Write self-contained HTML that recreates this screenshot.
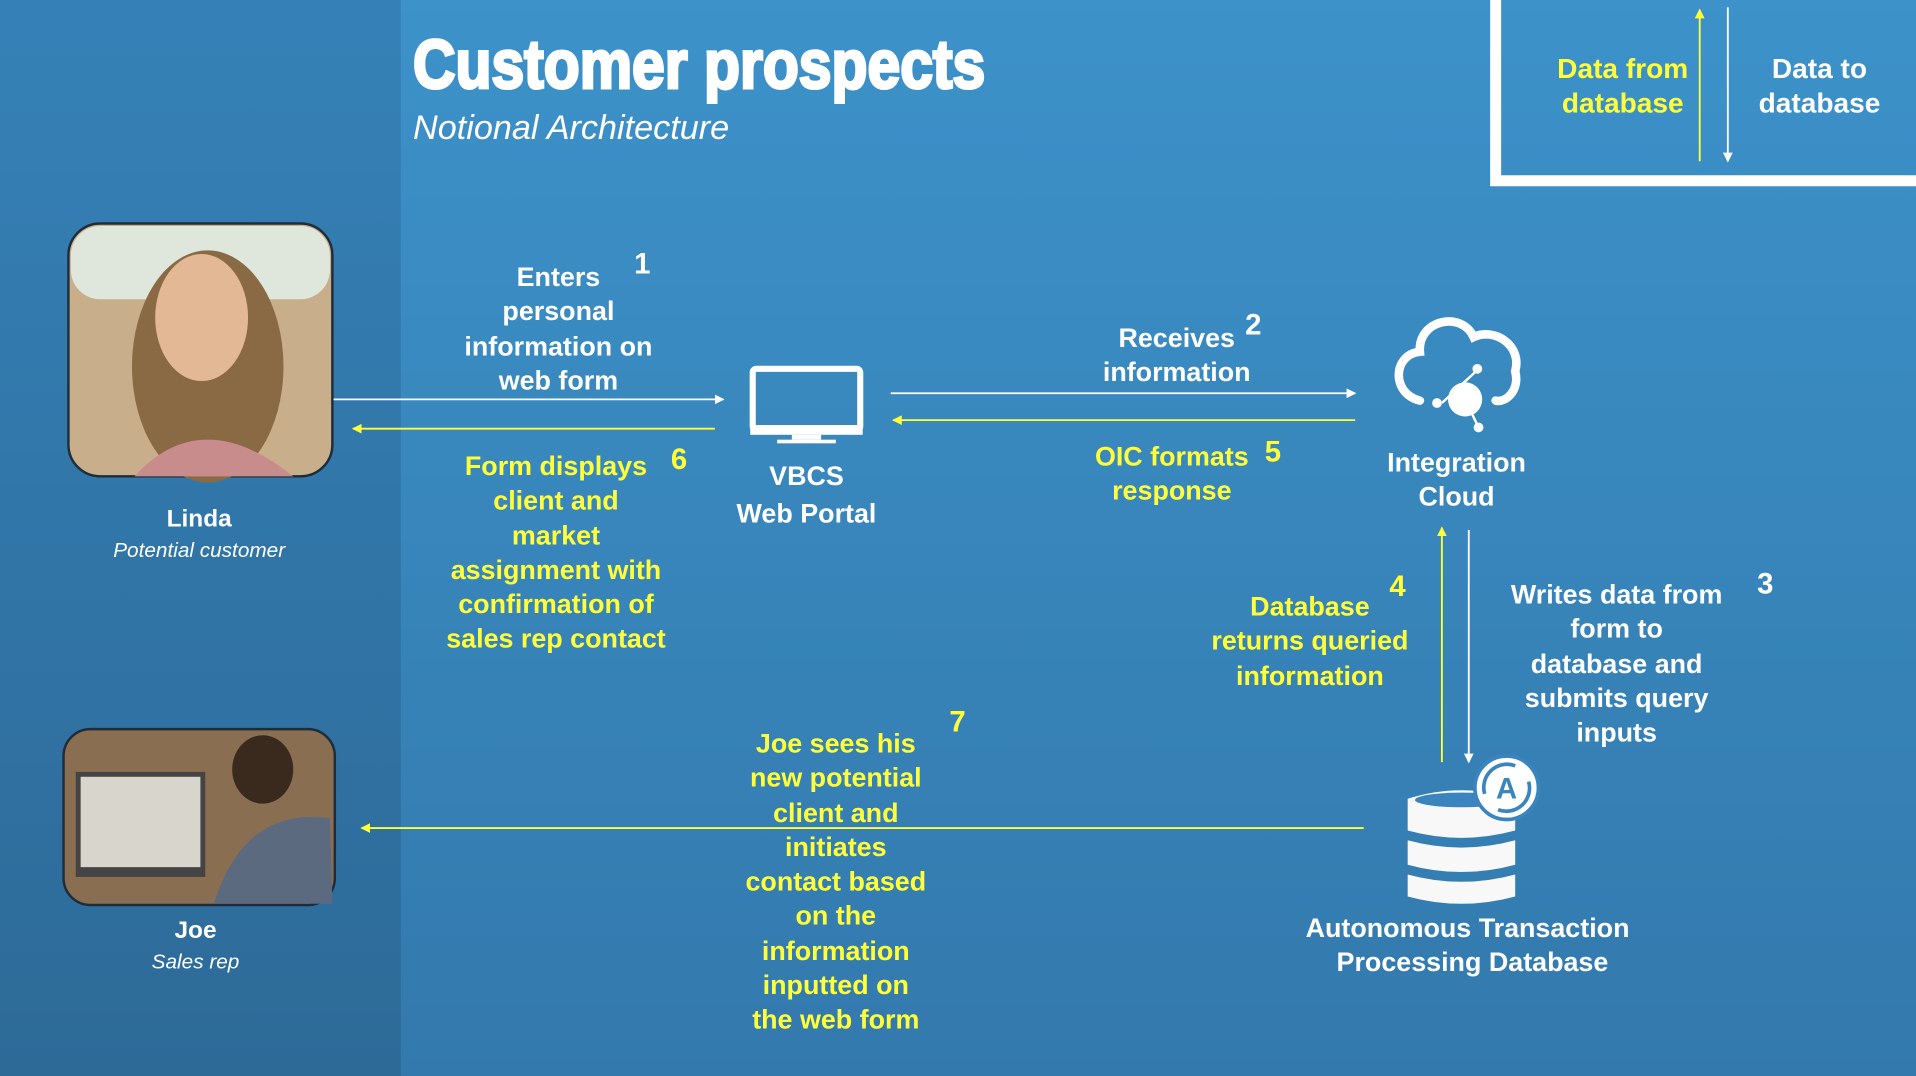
<!DOCTYPE html>
<html><head><meta charset="utf-8"><style>
html,body{margin:0;padding:0;width:1916px;height:1076px;overflow:hidden;background:#3a8cc4}
svg{display:block}
text{font-family:"Liberation Sans",sans-serif;font-weight:bold}
</style></head><body>
<svg width="1916" height="1076" viewBox="0 0 1568 881" preserveAspectRatio="none" xmlns="http://www.w3.org/2000/svg">
<defs>
<linearGradient id="bg" x1="0" y1="0" x2="0" y2="1"><stop offset="0" stop-color="#3c92c9"/><stop offset="1" stop-color="#3379ad"/></linearGradient>
<linearGradient id="lp" x1="0" y1="0" x2="0" y2="1"><stop offset="0" stop-color="#3581b7"/><stop offset="1" stop-color="#2d6a98"/></linearGradient>
<marker id="aw" markerWidth="8" markerHeight="8" refX="7" refY="4" orient="auto" markerUnits="userSpaceOnUse"><path d="M0,0 L8,4 L0,8z" fill="#fff"/></marker>
<marker id="ay" markerWidth="8" markerHeight="8" refX="7" refY="4" orient="auto" markerUnits="userSpaceOnUse"><path d="M0,0 L8,4 L0,8z" fill="#ffff3a"/></marker>
</defs>
<rect width="1568" height="881" fill="url(#bg)"/>
<rect width="328" height="881" fill="url(#lp)"/>
<path d="M1224,0 V148 H1568" fill="none" stroke="#fff" stroke-width="9"/>
<line x1="1391" y1="132" x2="1391" y2="8" stroke="#ffff3a" stroke-width="1.5" marker-end="url(#ay)"/>
<line x1="1414" y1="6" x2="1414" y2="132" stroke="#fff" stroke-width="1.5" marker-end="url(#aw)"/>
<g font-size="23" text-anchor="middle">
<text x="1328" y="64" fill="#ffff3a">Data from</text><text x="1328" y="92" fill="#ffff3a">database</text>
<text x="1489" y="64" fill="#fff">Data to</text><text x="1489" y="92" fill="#fff">database</text>
</g>
<text x="338" y="72" fill="#fff" stroke="#fff" stroke-width="2.5" font-size="56" transform="translate(338 0) scale(0.86 1) translate(-338 0)" style="font-family:'Liberation Sans Narrow','Liberation Sans',sans-serif">Customer prospects</text>
<text x="338" y="114" fill="#fff" font-size="28" font-style="italic" style="font-weight:normal">Notional Architecture</text>
<rect x="56" y="183" width="216" height="207" rx="26" fill="#c9ae8c" stroke="#1f2d3a" stroke-width="2"/>
<rect x="58" y="185" width="212" height="60" rx="24" fill="#dfe7dc"/>
<ellipse cx="170" cy="300" rx="62" ry="95" fill="#8a6a44"/>
<ellipse cx="165" cy="260" rx="38" ry="52" fill="#e3b995"/>
<path d="M110,390 Q165,330 240,390z" fill="#c98c8c"/>
<text x="163" y="431" fill="#fff" font-size="20" text-anchor="middle">Linda</text>
<text x="163" y="456" fill="#fff" font-size="17" text-anchor="middle" font-style="italic" style="font-weight:normal">Potential customer</text>
<rect x="52" y="597" width="222" height="144" rx="22" fill="#8a6e52" stroke="#1f2d3a" stroke-width="2"/>
<rect x="62" y="632" width="106" height="86" fill="#444"/>
<rect x="66" y="636" width="98" height="74" fill="#d8d6cc"/>
<ellipse cx="215" cy="630" rx="25" ry="28" fill="#3a2a1e"/>
<path d="M175,740 Q200,660 270,670 L272,740z" fill="#5c6a80"/>
<text x="160" y="768" fill="#fff" font-size="20" text-anchor="middle">Joe</text>
<text x="160" y="793" fill="#fff" font-size="17" text-anchor="middle" font-style="italic" style="font-weight:normal">Sales rep</text>
<rect x="616" y="302" width="88" height="50" rx="3" fill="none" stroke="#fff" stroke-width="5"/>
<rect x="614" y="348" width="92" height="8" fill="#fff"/>
<rect x="648" y="356" width="24" height="4" fill="#fff"/>
<rect x="636" y="360" width="48" height="3" fill="#fff"/>
<text x="660" y="397" fill="#fff" font-size="22" text-anchor="middle">VBCS</text>
<text x="660" y="428" fill="#fff" font-size="22" text-anchor="middle">Web Portal</text>
<path d="M1162,328 C1138,322 1140,290 1162,288 C1160,262 1196,254 1206,276 C1222,268 1246,282 1240,304 C1244,320 1232,330 1224,328" fill="none" stroke="#fff" stroke-width="7" stroke-linecap="round"/>
<circle cx="1199" cy="327" r="14" fill="#fff"/>
<circle cx="1176" cy="330" r="4" fill="#fff"/><circle cx="1209" cy="302" r="4" fill="#fff"/><circle cx="1210" cy="350" r="4" fill="#fff"/>
<line x1="1180" y1="330" x2="1210" y2="302" stroke="#fff" stroke-width="2"/><line x1="1199" y1="327" x2="1210" y2="350" stroke="#fff" stroke-width="2"/>
<text x="1192" y="386" fill="#fff" font-size="22" text-anchor="middle">Integration</text>
<text x="1192" y="414" fill="#fff" font-size="22" text-anchor="middle">Cloud</text>
<g fill="#f8f8f8">
<path d="M1152,654 Q1196,640 1240,654 V680 Q1196,692 1152,680z"/>
<path d="M1152,688 Q1196,700 1240,688 V708 Q1196,720 1152,708z"/>
<path d="M1152,716 Q1196,728 1240,716 V734 Q1196,746 1152,734z"/>
</g>
<ellipse cx="1196" cy="655" rx="38" ry="6" fill="#3a85bd"/>
<circle cx="1233" cy="645" r="26" fill="#fff" stroke="#3a85bd" stroke-width="3"/>
<text x="1233" y="654" fill="#3a85bd" font-size="24" text-anchor="middle">A</text>
<path d="M1215,650 A19,19 0 0 1 1240,627 M1251,640 A19,19 0 0 1 1226,663" fill="none" stroke="#3a85bd" stroke-width="3"/>
<text x="1201" y="767" fill="#fff" font-size="22" text-anchor="middle">Autonomous Transaction</text>
<text x="1205" y="795" fill="#fff" font-size="22" text-anchor="middle">Processing Database</text>
<g stroke-width="1.5" fill="none">
<line x1="273" y1="327" x2="592" y2="327" stroke="#fff" marker-end="url(#aw)"/>
<line x1="585" y1="351" x2="289" y2="351" stroke="#ffff3a" marker-end="url(#ay)"/>
<line x1="729" y1="322" x2="1109" y2="322" stroke="#fff" marker-end="url(#aw)"/>
<line x1="1109" y1="344" x2="731" y2="344" stroke="#ffff3a" marker-end="url(#ay)"/>
<line x1="1202" y1="434" x2="1202" y2="624" stroke="#fff" marker-end="url(#aw)"/>
<line x1="1180" y1="624" x2="1180" y2="432" stroke="#ffff3a" marker-end="url(#ay)"/>
<line x1="1116" y1="678" x2="296" y2="678" stroke="#ffff3a" marker-end="url(#ay)"/>
</g>
<g font-size="22" text-anchor="middle" fill="#fff">
<text x="457" y="234">Enters</text><text x="457" y="262">personal</text><text x="457" y="291">information on</text><text x="457" y="319">web form</text>
<text x="963" y="284">Receives</text><text x="963" y="312">information</text>
<text x="1323" y="494">Writes data from</text><text x="1323" y="522">form to</text><text x="1323" y="551">database and</text><text x="1323" y="579">submits query</text><text x="1323" y="607">inputs</text>
</g>
<g font-size="22" text-anchor="middle" fill="#ffff3a">
<text x="455" y="389">Form displays</text><text x="455" y="417">client and</text><text x="455" y="446">market</text><text x="455" y="474">assignment with</text><text x="455" y="502">confirmation of</text><text x="455" y="530">sales rep contact</text>
<text x="959" y="381">OIC formats</text><text x="959" y="409">response</text>
<text x="1072" y="504">Database</text><text x="1072" y="532">returns queried</text><text x="1072" y="561">information</text>
<text x="684" y="616">Joe sees his</text><text x="684" y="644">new potential</text><text x="684" y="673">client and</text><text x="684" y="701">initiates</text><text x="684" y="729">contact based</text><text x="684" y="757">on the</text><text x="684" y="786">information</text><text x="684" y="814">inputted on</text><text x="684" y="842">the web form</text>
</g>
<g font-size="24" style="font-weight:normal">
<text x="519" y="224" fill="#fff">1</text>
<text x="1019" y="274" fill="#fff">2</text>
<text x="1438" y="486" fill="#fff">3</text>
<text x="1137" y="488" fill="#ffff3a">4</text>
<text x="1035" y="378" fill="#ffff3a">5</text>
<text x="549" y="384" fill="#ffff3a">6</text>
<text x="777" y="599" fill="#ffff3a">7</text>
</g>
</svg>
</body></html>
